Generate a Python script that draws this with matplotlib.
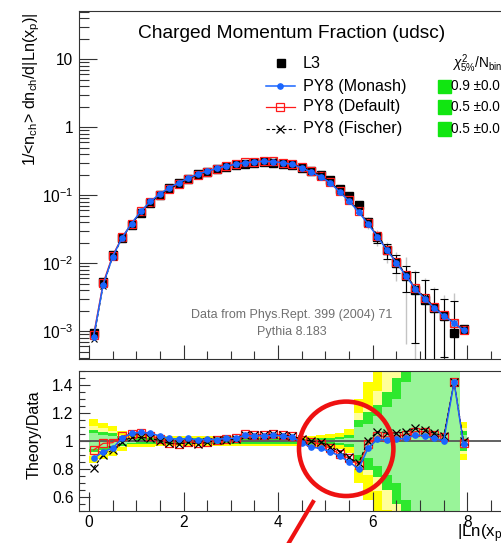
import numpy as np
import matplotlib.pyplot as plt
from matplotlib.lines import Line2D
from matplotlib.patches import Circle, Rectangle
from matplotlib.ticker import LogLocator, MultipleLocator, NullFormatter

plt.rcParams['font.family'] = ['Liberation Sans', 'DejaVu Sans']
plt.rcParams['mathtext.fontset'] = 'custom'
plt.rcParams['mathtext.rm'] = 'Liberation Sans'
plt.rcParams['mathtext.it'] = 'Liberation Sans:italic'
plt.rcParams['mathtext.bf'] = 'Liberation Sans:bold'

# ---- binning |Ln(x_p)| ----
bin_edges = np.r_[np.arange(0.0, 7.61, 0.2), 7.84, 8.0]
x_centers = 0.5 * (bin_edges[1:] + bin_edges[:-1])

# L3 data, 1/<n_ch> dn_ch/d|Ln(x_p)|
l3_values = [9.5e-4, 5.2e-3, 1.31e-2, 2.32e-2, 3.63e-2, 5.48e-2, 7.65e-2, 0.101,
             0.126, 0.151, 0.175, 0.203, 0.222, 0.245, 0.262, 0.279, 0.289, 0.298,
             0.303, 0.299, 0.289, 0.276, 0.255, 0.230, 0.196, 0.165, 0.125, 0.096,
             0.071, 0.040, 0.0242, 0.0154, 0.0101, 0.0064, 0.0040, 0.0029, 0.00216,
             0.00168, 9.3e-4, 0.00106]
# relative uncertainties of the data (stat, total)
rel_stat = [0.055, 0.045, 0.035, 0.02, 0.012, 0.008, 0.007, 0.006, 0.006, 0.006,
            0.006, 0.006, 0.006, 0.006, 0.006, 0.006, 0.006, 0.006, 0.006, 0.006,
            0.006, 0.006, 0.006, 0.007, 0.008, 0.010, 0.012, 0.020, 0.10, 0.12,
            0.18, 0.245, 0.30, 0.42, 0.83, 0.95, 0.95, 0.75, 2.0, 0.045]
rel_tot = [0.08, 0.065, 0.055, 0.035, 0.022, 0.02, 0.02, 0.019, 0.019, 0.019,
           0.019, 0.019, 0.019, 0.019, 0.019, 0.019, 0.019, 0.019, 0.019, 0.019,
           0.019, 0.018, 0.016, 0.018, 0.022, 0.025, 0.028, 0.042, 0.15, 0.21,
           0.26, 0.35, 0.45, 0.9, 1.0, 1.1, 1.1, 1.0, 2.9, 0.068]

# Theory/Data for the three Pythia 8 tunes
ratio_monash = [0.876, 0.924, 0.948, 1.019, 1.055, 1.062, 1.055, 1.036, 1.019, 1.012,
                1.019, 1.007, 1.012, 1.010, 1.019, 1.019, 1.040, 1.036, 1.038, 1.040,
                1.036, 1.026, 0.988, 0.955, 0.948, 0.924, 0.893, 0.852, 0.800, 0.948,
                1.012, 1.007, 1.012, 1.019, 1.043, 1.036, 1.019, 1.002, 1.42, 0.979]
ratio_default = [0.936, 0.983, 0.988, 1.036, 1.050, 1.055, 1.038, 1.012, 0.983, 0.979,
                 0.995, 0.983, 0.990, 1.005, 1.012, 1.019, 1.050, 1.043, 1.043, 1.050,
                 1.043, 1.036, 1.007, 0.990, 0.979, 0.948, 0.907, 0.876, 0.829, 0.976,
                 1.036, 1.029, 1.036, 1.043, 1.067, 1.067, 1.043, 1.026, 1.42, 0.983]
ratio_fischer = [0.81, 0.90, 0.936, 0.995, 1.026, 1.026, 1.019, 1.002, 0.983, 0.978,
                 0.990, 0.978, 0.990, 1.005, 1.007, 1.012, 1.040, 1.040, 1.043, 1.050,
                 1.043, 1.036, 1.012, 1.000, 0.993, 0.960, 0.924, 0.883, 0.840, 1.002,
                 1.067, 1.060, 1.055, 1.067, 1.090, 1.079, 1.055, 1.036, 1.42, 1.000]

tune_names = ['PY8 (Monash)', 'PY8 (Default)', 'PY8 (Fischer)']
chi2_labels = ['0.9 \u00b10.0', '0.5 \u00b10.0', '0.5 \u00b10.0']

l3 = np.array(l3_values)
stat_err = l3 * np.array(rel_stat)
tot_err = l3 * np.array(rel_tot)
mc_monash = l3 * np.array(ratio_monash)
mc_default = l3 * np.array(ratio_default)
mc_fischer = l3 * np.array(ratio_fischer)

# ---- figure geometry (pixels) ----
W, H = 502, 543
px_per_unit = 47.3
x_lo, x_hi = -0.21, 9.0
fig = plt.figure(figsize=(W / 100, H / 100), dpi=100)


def fx(px):
    return px / W


def fy(py):
    return 1 - py / H


ax_w = (x_hi - x_lo) * px_per_unit
ax = fig.add_axes([fx(79), fy(359), ax_w / W, (359 - 11) / H])
rax = fig.add_axes([fx(79), fy(511), ax_w / W, (511 - 371) / H])

c_blue = '#1a66ff'
c_red = '#ff1a1a'
frame_col = '#333333'

# ---- main panel ----
lo_tot = np.maximum(l3 - tot_err, 1e-6)
ax.vlines(x_centers, lo_tot, l3 + tot_err, color='#c4c4c4', lw=1.0, zorder=1)
stat_lo = np.minimum(stat_err, l3 - 1e-6)
ax.errorbar(x_centers, l3, yerr=[stat_lo, stat_err], fmt='none', ecolor='black',
            elinewidth=0.8, capsize=3, capthick=0.8, zorder=2)
ax.plot(x_centers, l3, 's', color='black', ms=6, zorder=3)
ax.plot(x_centers, mc_default, '-', color=c_red, lw=0.9, marker='s', ms=6,
        mfc='none', mec=c_red, mew=0.9, zorder=4)
ax.plot(x_centers, mc_fischer, '--', color='black', lw=0.8, marker='x', ms=5,
        mew=0.8, dashes=(3, 2), zorder=5)
ax.plot(x_centers, mc_monash, '-', color=c_blue, lw=1.1, marker='o', ms=3.8,
        mec=c_blue, zorder=6)

ax.set_yscale('log')
ax.set_xlim(x_lo, x_hi)
ax.set_ylim(3.9e-4, 51)
ax.set_yticks([1e-3, 1e-2, 1e-1, 1, 10],
              ['10$^{-3}$', '10$^{-2}$', '10$^{-1}$', '1', '10'])
ax.yaxis.set_minor_locator(LogLocator(base=10, subs=np.arange(2, 10), numticks=20))
ax.yaxis.set_minor_formatter(NullFormatter())
ax.xaxis.set_major_locator(MultipleLocator(2))
ax.xaxis.set_minor_locator(MultipleLocator(0.5))
ax.tick_params(axis='both', which='both', direction='in', top=False, right=False,
               labelbottom=False, colors=frame_col, labelcolor='black',
               labelsize=11.2, width=0.8)
ax.tick_params(axis='y', which='major', length=13, pad=4)
ax.tick_params(axis='y', which='minor', length=7)
ax.tick_params(axis='x', which='major', length=10)
ax.tick_params(axis='x', which='minor', length=6)
for s in ax.spines.values():
    s.set_color(frame_col)
    s.set_linewidth(0.8)

# ---- ratio panel ----
band_lo = np.array(rel_tot)
band_st = np.array(rel_stat)
rax.stairs(1 + 2 * band_lo, bin_edges, baseline=1 - 2 * band_lo, fill=True,
           color='#ffff00', zorder=1)
rax.stairs(1 + 2 * band_st, bin_edges, baseline=1 - 2 * band_st, fill=True,
           color='#ffff99', zorder=1.1)
rax.stairs(1 + band_lo, bin_edges, baseline=1 - band_lo, fill=True,
           color='#2ee82e', zorder=1.2)
rax.stairs(1 + band_st, bin_edges, baseline=1 - band_st, fill=True,
           color='#99f499', zorder=1.3)
rax.axhline(1.0, color='#555555', lw=1.3, zorder=2)

rax.plot(x_centers, ratio_default, '-', color=c_red, lw=0.9, marker='s', ms=6,
         mfc='none', mec=c_red, mew=0.9, zorder=4)
rax.plot(x_centers, ratio_fischer, '--', color='black', lw=0.8, marker='x', ms=6,
         mew=0.9, dashes=(3, 2), zorder=5)
rax.plot(x_centers, ratio_monash, '-', color=c_blue, lw=1.1, marker='o', ms=3.8,
         mec=c_blue, zorder=6)

rax.set_xlim(x_lo, x_hi)
rax.set_ylim(0.5, 1.5)
rax.set_yticks([0.6, 0.8, 1.0, 1.2, 1.4], ['0.6', '0.8', '1', '1.2', '1.4'])
rax.yaxis.set_minor_locator(MultipleLocator(0.05))
rax.xaxis.set_major_locator(MultipleLocator(2))
rax.xaxis.set_minor_locator(MultipleLocator(0.5))
rax.tick_params(axis='both', which='both', direction='in', top=False, right=False,
                colors=frame_col, labelcolor='black', labelsize=11.2, width=0.8)
rax.tick_params(axis='y', which='major', length=8, pad=4)
rax.tick_params(axis='y', which='minor', length=4)
rax.tick_params(axis='x', which='major', length=14, pad=3)
rax.tick_params(axis='x', which='minor', length=8)
for s in rax.spines.values():
    s.set_color(frame_col)
    s.set_linewidth(0.8)

# ---- titles and labels ----
fig.text(fx(291.5), fy(33), 'Charged Momentum Fraction (udsc)', ha='center',
         va='center', fontsize=13.8)
fig.text(fx(32), fy(13), '1/<n$_{\\rm ch}$> dn$_{\\rm ch}$/d|Ln(x$_{\\rm p}$)|',
         rotation=90, ha='center', va='top', fontsize=11.6)
fig.text(fx(34), fy(435), 'Theory/Data', rotation=90, ha='center', va='center',
         fontsize=11.6)
fig.text(fx(457), fy(534), '|Ln(x$_{\\rm p}$)|', ha='left', va='center',
         fontsize=12.2)
fig.text(fx(292), fy(315), 'Data from Phys.Rept. 399 (2004) 71', ha='center',
         va='center', color='#707070', fontsize=9)
fig.text(fx(292), fy(332), 'Pythia 8.183', ha='center', va='center',
         color='#707070', fontsize=9)

# ---- legend ----
leg_rows = [86, 107, 129]
fig.add_artist(Line2D([fx(281)], [fy(63)], marker='s', color='black', ms=5.5,
                      ls='none'))
fig.text(fx(303), fy(63), 'L3', ha='left', va='center', fontsize=11.6)
leg_styles = [dict(color=c_blue, lw=1.1, marker='o', ms=3.8, mec=c_blue),
              dict(color=c_red, lw=0.9, marker='s', ms=6, mfc='none', mec=c_red,
                   mew=0.9),
              dict(color='black', lw=0.8, marker='x', ms=6, mew=0.9, ls='--',
                   dashes=(3, 2))]
for row, name, style, chi in zip(leg_rows, tune_names, leg_styles, chi2_labels):
    fig.add_artist(Line2D([fx(266), fx(295)], [fy(row), fy(row)],
                          **{k: v for k, v in style.items()
                             if k not in ('marker', 'ms', 'mfc', 'mec', 'mew')}))
    fig.add_artist(Line2D([fx(280.5)], [fy(row)], ls='none',
                          **{k: v for k, v in style.items()
                             if k not in ('lw', 'ls', 'dashes')}))
    fig.text(fx(303), fy(row), name, ha='left', va='center', fontsize=11.6)
    fig.add_artist(Rectangle((fx(438), fy(row + 6.5)), 13 / W, 13 / H,
                             color='#11e611', transform=fig.transFigure))
    fig.text(fx(451.5), fy(row), chi, ha='left', va='center', fontsize=9.8)
fig.text(fx(452), fy(64), '$\\chi^{2}_{5\\%}$/N$_{\\rm bins}$', ha='left',
         va='center', fontsize=9.8)

# ---- highlight of the dip region ----
fig.add_artist(Circle((3.462, (H - 448.8) / 100), 0.472,
                      transform=fig.dpi_scale_trans, fill=False, ec='#ee1111',
                      lw=3.3, zorder=20))
fig.add_artist(Line2D([3.13, 2.87], [(H - 502) / 100, -0.03],
                      transform=fig.dpi_scale_trans, color='#ee1111', lw=3.0,
                      zorder=20))

fig.savefig('out.png', dpi=100)
